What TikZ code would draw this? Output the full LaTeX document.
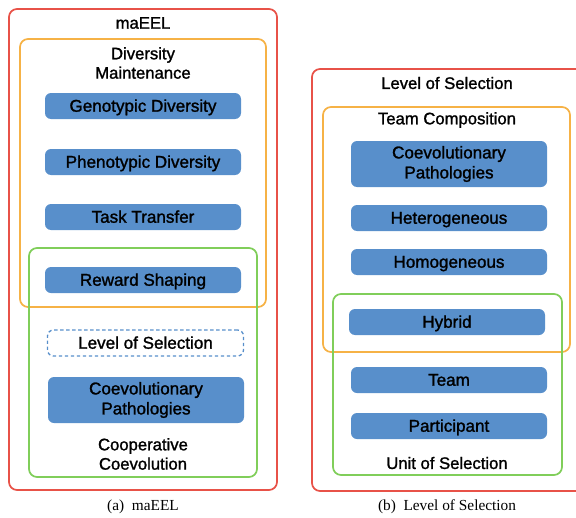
\documentclass[tikz,border=0pt]{standalone}
\usepackage{fontspec}
\setmainfont{Liberation Serif}
\newfontfamily\boxfont[FakeBold=1.4]{Liberation Sans}
\usetikzlibrary{positioning}

\definecolor{selred}{RGB}{232,82,72}
\definecolor{divorange}{RGB}{246,178,70}
\definecolor{coopgreen}{RGB}{128,206,90}
\definecolor{itemblue}{RGB}{88,143,203}

\tikzset{
  redframe/.style={draw=selred, line width=1.3pt, rounded corners=6pt},
  orangeframe/.style={draw=divorange, line width=1.3pt, rounded corners=6pt},
  greenframe/.style={draw=coopgreen, line width=1.3pt, rounded corners=6pt},
  item/.style={fill=itemblue, rounded corners=4.5pt, inner sep=0pt,
    minimum width=147pt, minimum height=19.5pt, align=center,
    text height=10.6pt, text depth=2pt,
    font=\boxfont\fontsize{12.8}{15}\selectfont},
  tallitem/.style={item, minimum height=34.5pt, text height=, text depth=},
  dashitem/.style={item, fill=none, draw=itemblue, line width=1pt,
    dash pattern=on 2.5pt off 2pt},
  heading/.style={inner sep=0.75pt, align=center,
    font=\boxfont\fontsize{12.5}{14.5}\selectfont},
  subcap/.style={inner sep=0.75pt, font=\fontsize{11.5}{13}\selectfont}
}

\begin{document}
\begin{tikzpicture}[x=0.75pt,y=0.75pt,yscale=-1]
\useasboundingbox (0,0) rectangle (576,518);

%Shape: Frames of (a)
\draw [redframe] (9,9) rectangle (277,490);
\draw [orangeframe] (20,39) rectangle (266,307);
\draw [greenframe] (29,248) rectangle (257,477);

% Text Node
\node [heading] (maeel) at (143,23) {maEEL};
% Text Node
\node [heading] (divmain) at (143,63) {Diversity\\Maintenance};
\node [item] (geno) at (143,106) {Genotypic Diversity};
\node [item] (pheno) at (143,162) {Phenotypic Diversity};
\node [item] (task) at (143,217) {Task Transfer};
\node [item] (reward) at (143,280) {Reward Shaping};
\node [dashitem] (levsel) at (145.5,343) {Level of Selection};
\node [tallitem] (coevpath) at (146,400) {Coevolutionary\\Pathologies};
% Text Node
\node [heading] (coopcoev) at (143,454) {Cooperative\\Coevolution};

%Shape: Frames of (b)
\draw [redframe] (312,69) rectangle (590,491);
\draw [orangeframe] (323,107) rectangle (570,352);
\draw [greenframe] (333,294) rectangle (562,475);

% Text Node
\node [heading] (levtitle) at (447,83) {Level of Selection};
% Text Node
\node [heading] (teamcomp) at (447,120) {Team Composition};
\node [tallitem] (pathb) at (449,164) {Coevolutionary\\Pathologies};
\node [item] (hetero) at (449,218) {Heterogeneous};
\node [item] (homo) at (449,262) {Homogeneous};
\node [item] (hybrid) at (447,322) {Hybrid};
\node [item] (team) at (449,380) {Team};
\node [item] (partic) at (449,426) {Participant};
% Text Node
\node [heading] (unitsel) at (447,463) {Unit of Selection};

% Captions
\node [subcap] (capa) at (143,507) {(a)\ \ maEEL};
\node [subcap] (capb) at (447,507) {(b)\ \ Level of Selection};

\end{tikzpicture}
\end{document}
